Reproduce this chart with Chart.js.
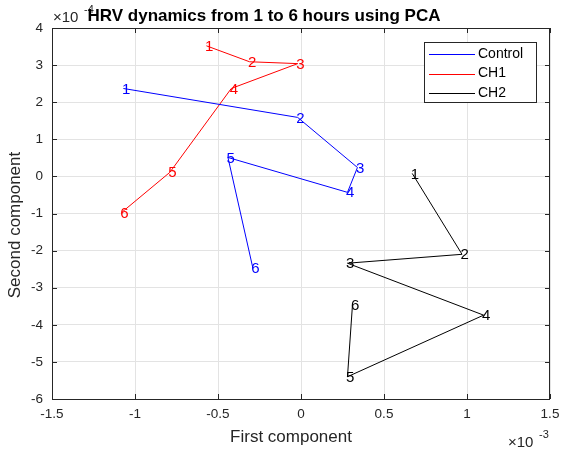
<!DOCTYPE html>
<html>
<head>
<meta charset="utf-8">
<script src="https://cdn.jsdelivr.net/npm/chart.js@4"></script>
<style>
  body { margin: 0; background: #fff; }
  #wrap { width: 561px; height: 450px; }
</style>
</head>
<body>
<div id="wrap"><canvas id="pca_grafic" width="561" height="450"></canvas></div>
<script>
// x values are in units of 1e-3, y values in units of 1e-4 (as on the axes)
const horas = ['1', '2', '3', '4', '5', '6'];

const control_x = [-1.07, -0.02, 0.34, 0.28, -0.44, -0.29];
const control_y = [2.37, 1.59, 0.24, -0.43, 0.51, -2.47];

const ch1_x = [-0.57, -0.31, -0.02, -0.42, -0.79, -1.08];
const ch1_y = [3.52, 3.09, 3.04, 2.37, 0.11, -0.97];

const ch2_x = [0.67, 0.97, 0.28, 1.10, 0.28, 0.31];
const ch2_y = [0.08, -2.10, -2.34, -3.74, -5.40, -3.47];

const x_ticks = [-1.5, -1, -0.5, 0, 0.5, 1, 1.5];
const y_ticks = [-6, -5, -4, -3, -2, -1, 0, 1, 2, 3, 4];

const fonte = '"Liberation Sans", Helvetica, Arial, sans-serif';

function pontos(xs, ys) {
    return xs.map(function(x, i) { return { x: x, y: ys[i] }; });
}

function serie(nome, cor, xs, ys) {
    return {
        label: nome,
        data: pontos(xs, ys),
        showLine: true,
        borderColor: cor,
        backgroundColor: cor,
        borderWidth: 1,
        pointRadius: 0,
        pointHoverRadius: 0,
        tension: 0
    };
}

// desenha caixa, ticks, rotulos e legenda no estilo do matlab
const estiloMatlab = {
    id: 'estiloMatlab',
    afterDatasetsDraw(chart) {
        const ctx = chart.ctx;
        const a = chart.chartArea;
        const sx = chart.scales.x, sy = chart.scales.y;
        ctx.save();

        // numeros em cada ponto
        ctx.font = '15px ' + fonte;
        ctx.textAlign = 'left';
        ctx.textBaseline = 'middle';
        chart.data.datasets.forEach(function(ds) {
            ctx.fillStyle = ds.borderColor;
            ds.data.forEach(function(p, i) {
                ctx.fillText(horas[i], sx.getPixelForValue(p.x) - 1.5, sy.getPixelForValue(p.y) + 1);
            });
        });

        // caixa dos eixos
        ctx.strokeStyle = '#262626';
        ctx.lineWidth = 1;
        ctx.strokeRect(Math.round(a.left) + 0.5, Math.round(a.top) + 0.5,
            Math.round(a.right - a.left) - 1, Math.round(a.bottom - a.top));

        // ticks para dentro
        ctx.beginPath();
        x_ticks.forEach(function(v) {
            const px = Math.round(sx.getPixelForValue(v)) + 0.5;
            ctx.moveTo(px, a.bottom); ctx.lineTo(px, a.bottom - 5);
            ctx.moveTo(px, a.top); ctx.lineTo(px, a.top + 5);
        });
        y_ticks.forEach(function(v) {
            const py = Math.round(sy.getPixelForValue(v)) + 0.5;
            ctx.moveTo(a.left, py); ctx.lineTo(a.left + 5, py);
            ctx.moveTo(a.right, py); ctx.lineTo(a.right - 5, py);
        });
        ctx.stroke();

        // legenda
        const lx = 424, ly = 42, lw = 112, lh = 60;
        ctx.fillStyle = '#fff';
        ctx.fillRect(lx, ly, lw, lh);
        ctx.strokeStyle = '#262626';
        ctx.strokeRect(lx + 0.5, ly + 0.5, lw, lh);
        ctx.font = '14px ' + fonte;
        ctx.textBaseline = 'middle';
        chart.data.datasets.forEach(function(ds, i) {
            const yy = ly + 12 + i * 19.5;
            ctx.strokeStyle = ds.borderColor;
            ctx.beginPath();
            ctx.moveTo(lx + 5, Math.round(yy) + 0.5);
            ctx.lineTo(lx + 51, Math.round(yy) + 0.5);
            ctx.stroke();
            ctx.fillStyle = '#000';
            ctx.fillText(ds.label, lx + 54, yy);
        });

        // rotulos dos eixos
        ctx.fillStyle = '#262626';
        ctx.font = '17px ' + fonte;
        ctx.textAlign = 'center';
        ctx.textBaseline = 'middle';
        ctx.fillText('First component', 291, 437);
        ctx.save();
        ctx.translate(15, 225);
        ctx.rotate(-Math.PI / 2);
        ctx.fillText('Second component', 0, 0);
        ctx.restore();

        // expoentes
        ctx.textAlign = 'left';
        ctx.textBaseline = 'alphabetic';
        ctx.font = '15px ' + fonte;
        ctx.fillText('\u00d710', 508, 447);
        ctx.fillText('\u00d710', 53, 22);
        ctx.font = '11px ' + fonte;
        ctx.fillText('-3', 539, 438);
        ctx.fillText('-4', 84, 13);

        // titulo
        ctx.fillStyle = '#000';
        ctx.font = 'bold 17px ' + fonte;
        ctx.textAlign = 'center';
        ctx.textBaseline = 'middle';
        ctx.fillText('HRV dynamics from 1 to 6 hours using PCA', 264, 16);

        ctx.restore();
    }
};

const ctx = document.getElementById('pca_grafic').getContext('2d');

const myChart = new Chart(ctx, {
    type: 'scatter',
    data: {
        datasets: [
            serie('Control', '#0000ff', control_x, control_y),
            serie('CH1', '#ff0000', ch1_x, ch1_y),
            serie('CH2', '#000000', ch2_x, ch2_y)
        ]
    },
    options: {
        responsive: false,
        animation: false,
        events: [],
        layout: { padding: { top: 28, right: 11, left: 0, bottom: 0 } },
        plugins: {
            legend: { display: false },
            tooltip: { enabled: false },
            title: { display: false }
        },
        scales: {
            x: {
                type: 'linear',
                min: -1.5,
                max: 1.5,
                afterFit: function(scale) {
                    scale.height = 51;
                    scale.paddingLeft = 0;
                    scale.paddingRight = 0;
                },
                afterBuildTicks: function(scale) {
                    scale.ticks = x_ticks.map(function(v) { return { value: v }; });
                },
                ticks: {
                    color: '#262626',
                    font: { family: fonte, size: 13.5 },
                    padding: 7,
                    maxRotation: 0,
                    callback: function(v) { return String(v); }
                },
                grid: { color: '#e3e3e3', drawTicks: false },
                border: { display: false }
            },
            y: {
                type: 'linear',
                min: -6,
                max: 4,
                afterFit: function(scale) {
                    scale.width = 52;
                    scale.paddingTop = 0;
                    scale.paddingBottom = 0;
                },
                afterBuildTicks: function(scale) {
                    scale.ticks = y_ticks.map(function(v) { return { value: v }; });
                },
                ticks: {
                    color: '#262626',
                    font: { family: fonte, size: 13.5 },
                    padding: 9,
                    callback: function(v) { return String(v); }
                },
                grid: { color: '#e3e3e3', drawTicks: false },
                border: { display: false }
            }
        }
    },
    plugins: [estiloMatlab]
});
</script>
</body>
</html>
